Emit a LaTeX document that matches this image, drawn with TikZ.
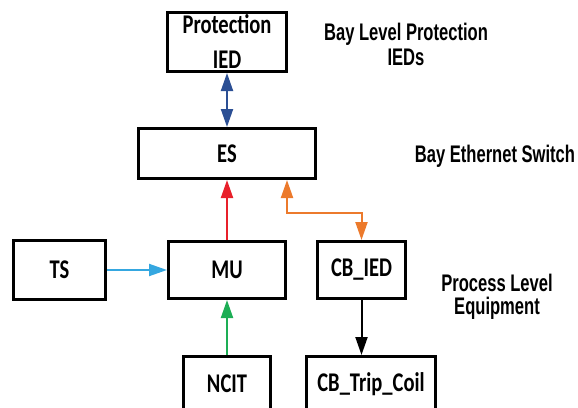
\documentclass[tikz,border=0pt]{standalone}
\usepackage{fontspec}
\usepackage{tikz}
\usetikzlibrary{arrows.meta}
\newfontfamily\boxfont{Carlito}[FakeStretch=0.76]
\newfontfamily\lblfont{Liberation Sans}[FakeStretch=0.69]
\definecolor{ieddblue}{HTML}{2B4F94}
\definecolor{esred}{HTML}{E8202A}
\definecolor{cborange}{HTML}{EC7A2C}
\definecolor{tsblue}{HTML}{35A7E0}
\definecolor{ncitgreen}{HTML}{1DAE55}

\begin{document}
\begin{tikzpicture}[x=1pt,y=-1pt,
  box/.style={draw,line width=3pt,inner sep=0pt,align=center,
    font=\boxfont\bfseries\fontsize{27}{35}\selectfont},
  lbl/.style={align=center,inner sep=0pt,
    font=\lblfont\bfseries\fontsize{24}{25}\selectfont},
  link/.style={line width=2pt,-{Triangle[length=18pt,width=12pt]}},
  duallink/.style={line width=2pt,{Triangle[length=18pt,width=12pt]}-{Triangle[length=18pt,width=12pt]}}]
  \clip (0,0) rectangle (578,407);
  \node[box,minimum width=119pt,minimum height=59pt] (prot) at (227,42) {\rule{0pt}{17pt}Protection\\IED};
  \node[box,minimum width=177pt,minimum height=50pt] (es) at (227,153.5) {ES};
  \node[box,minimum width=92pt,minimum height=59pt] (ts) at (59.5,270) {TS};
  \node[box,minimum width=117pt,minimum height=57pt] (mu) at (227,270) {MU};
  \node[box,minimum width=88pt,minimum height=57pt] (cbied) at (361.5,270) {CB\_IED};
  \node[box,minimum width=87pt,minimum height=55pt] (ncit) at (227,384) {NCIT};
  \node[box,minimum width=129pt,minimum height=55pt] (coil) at (371,384) {CB\_Trip\_Coil};
  \node[lbl] (bayprot) at (406,44) {Bay Level Protection\\IEDs};
  \node[lbl] (bayes) at (495,156) {Bay Ethernet Switch};
  \node[lbl] (proc) at (497,297) {Process Level\\[-2pt]Equipment};
  \draw[duallink,color=ieddblue] (prot.south) -- (es.north);
  \draw[link,color=esred] (mu.north) -- (es.south);
  \draw[duallink,color=cborange]
    ([xshift=60pt]es.south) -- ++(0,33) -| (cbied.north);
  \draw[link,color=tsblue] (ts.east) -- (mu.west);
  \draw[link,color=ncitgreen] (ncit.north) -- (mu.south);
  \draw[link,color=black] (cbied.south) -- (cbied.south |- coil.north);
\end{tikzpicture}
\end{document}
